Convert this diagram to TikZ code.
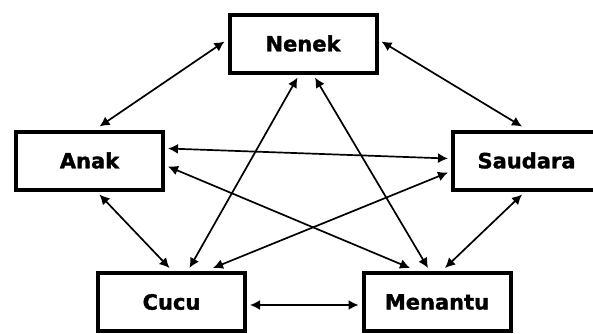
\documentclass[tikz,border=0pt]{standalone}
\usepackage{fontspec}
\newfontfamily\boxfont[BoldFeatures={FakeBold=1.5}]{DejaVu Sans}
\usepackage{tikz}
\usetikzlibrary{positioning, arrows.meta}

\begin{document}
\begin{tikzpicture}[
    x=0.5pt, y=0.5pt,
    member/.style={rectangle, draw, line width=2pt, minimum width=73.5pt, minimum height=29pt, outer sep=2.5pt, font=\boxfont\bfseries\fontsize{10.5}{12}\selectfont},
    link/.style={{Latex[length=5pt,width=5pt]}-{Latex[length=5pt,width=5pt]}, line width=0.85pt}
]
\clip (0,0) rectangle (593,333);

\node[member] (nenek) at (303, 289.5) {Nenek};
\node[member] (anak) at (89.5, 172.5) {Anak};
\node[member] (saudara) at (526.5, 172.5) {Saudara};
\node[member] (cucu) at (171.5, 31) {Cucu};
\node[member] (menantu) at (437, 31) {Menantu};

\draw[link] ([yshift=1pt]nenek.west) -- ([xshift=5pt]anak.north);
\draw[link] ([yshift=1pt]nenek.east) -- ([xshift=-2.25pt]saudara.north);
\draw[link] ([xshift=-2.75pt]nenek.south) -- ([xshift=9pt]cucu.north);
\draw[link] ([xshift=6pt]nenek.south) -- ([xshift=-4.5pt]menantu.north);
\draw[link] ([yshift=6pt]anak.east) -- ([yshift=1pt]saudara.west);
\draw[link] ([yshift=-3pt]anak.east) -- ([xshift=-13.5pt]menantu.north);
\draw[link] ([yshift=-6pt]saudara.west) -- ([xshift=20.75pt]cucu.north);
\draw[link] ([xshift=5pt]anak.south) -- ([xshift=-1pt]cucu.north);
\draw[link] ([xshift=-2.25pt]saudara.south) -- ([xshift=4pt]menantu.north);
\draw[link] ([yshift=-1.5pt]cucu.east) -- ([yshift=-1.5pt]menantu.west);

\end{tikzpicture}
\end{document}
